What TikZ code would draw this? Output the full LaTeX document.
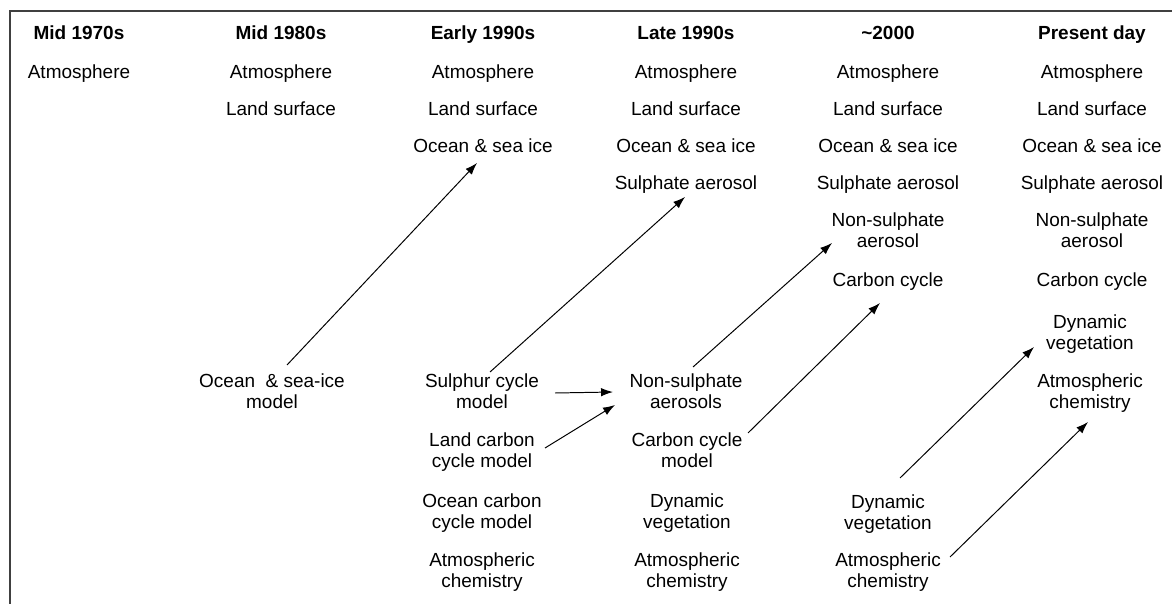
\documentclass[tikz,border=0pt]{standalone}
\usepackage{fontspec}
\setmainfont{Liberation Sans}
\usetikzlibrary{arrows.meta}

\newcommand{\lblstrut}{\rule[-2.4pt]{0pt}{14.4pt}}

\begin{document}
\begin{tikzpicture}[x=0.025cm, y=-0.025cm,
    lbl/.style={align=center, inner sep=0pt, font=\fontsize{13.5}{15}\selectfont,
      execute at begin node=\lblstrut, execute at end node=\lblstrut},
    hdr/.style={lbl, font=\fontsize{13.5}{15}\selectfont\bfseries},
    arr/.style={-{Latex[length=8.5pt,width=6pt]}, line width=0.7pt}]
    \useasboundingbox (0,0) rectangle (1172,604);

    % Frame (top and left edge only)
    \draw[line width=1.3pt, black!75] (10,604) -- (10,11) -- (1172,11);

    % Column headers
    \node[hdr] (h1) at (79,33) {Mid 1970s};
    \node[hdr] (h2) at (281,33) {Mid 1980s};
    \node[hdr] (h3) at (483,33) {Early 1990s};
    \node[hdr] (h4) at (686,33) {Late 1990s};
    \node[hdr] (h5) at (888,33) {\~{}2000};
    \node[hdr] (h6) at (1092,33) {Present day};

    % Mid 1970s
    \node[lbl] (atm1) at (79,72) {Atmosphere};

    % Mid 1980s
    \node[lbl] (atm2) at (281,72) {Atmosphere};
    \node[lbl] (land2) at (281,109) {Land surface};
    \node[lbl] (osim2) at (272,393) {Ocean \ \& sea-ice\\model};

    % Early 1990s
    \node[lbl] (atm3) at (483,72) {Atmosphere};
    \node[lbl] (land3) at (483,109) {Land surface};
    \node[lbl] (ocean3) at (483,146) {Ocean \& sea ice};
    \node[lbl] (sulph3) at (482,393) {Sulphur cycle\\model};
    \node[lbl] (landc3) at (482,452) {Land carbon\\cycle model};
    \node[lbl] (oceanc3) at (482,513) {Ocean carbon\\cycle model};
    \node[lbl] (chem3) at (482,572) {Atmospheric\\chemistry};

    % Late 1990s
    \node[lbl] (atm4) at (686,72) {Atmosphere};
    \node[lbl] (land4) at (686,109) {Land surface};
    \node[lbl] (ocean4) at (686,146) {Ocean \& sea ice};
    \node[lbl] (sa4) at (686,183) {Sulphate aerosol};
    \node[lbl] (nsa4) at (686,393) {Non-sulphate\\aerosols};
    \node[lbl] (ccm4) at (687,452) {Carbon cycle\\model};
    \node[lbl] (veg4) at (687,513) {Dynamic\\vegetation};
    \node[lbl] (chem4) at (687,572) {Atmospheric\\chemistry};

    % ~2000
    \node[lbl] (atm5) at (888,72) {Atmosphere};
    \node[lbl] (land5) at (888,109) {Land surface};
    \node[lbl] (ocean5) at (888,146) {Ocean \& sea ice};
    \node[lbl] (sa5) at (888,183) {Sulphate aerosol};
    \node[lbl] (nsa5) at (888,232) {Non-sulphate\\aerosol};
    \node[lbl] (cc5) at (888,280) {Carbon cycle};
    \node[lbl] (veg5) at (888,514) {Dynamic\\vegetation};
    \node[lbl] (chem5) at (888,572) {Atmospheric\\chemistry};

    % Present day
    \node[lbl] (atm6) at (1092,72) {Atmosphere};
    \node[lbl] (land6) at (1092,109) {Land surface};
    \node[lbl] (ocean6) at (1092,146) {Ocean \& sea ice};
    \node[lbl] (sa6) at (1092,183) {Sulphate aerosol};
    \node[lbl] (nsa6) at (1092,232) {Non-sulphate\\aerosol};
    \node[lbl] (cc6) at (1092,280) {Carbon cycle};
    \node[lbl] (veg6) at (1090,334) {Dynamic\\vegetation};
    \node[lbl] (chem6) at (1090,393) {Atmospheric\\chemistry};

    % Components coupled in
    \draw[arr] ([shift={(15,-28)}]osim2.center) -- ([shift={(-6,17)}]ocean3.center);
    \draw[arr] ([shift={(8,-21)}]sulph3.center) -- ([shift={(-1,14)}]sa4.center);
    \draw[arr] ([shift={(73,0)}]sulph3.center) -- ([shift={(-73,-1)}]nsa4.center);
    \draw[arr] ([shift={(63,-4)}]landc3.center) -- ([shift={(-71,12)}]nsa4.center);
    \draw[arr] ([shift={(7,-26)}]nsa4.center) -- ([shift={(-56,11)}]nsa5.center);
    \draw[arr] ([shift={(61,-19)}]ccm4.center) -- ([shift={(-8,23)}]cc5.center);
    \draw[arr] ([shift={(12,-36)}]veg5.center) -- ([shift={(-56,13)}]veg6.center);
    \draw[arr] ([shift={(62,-15)}]chem5.center) -- ([shift={(-2,29)}]chem6.center);
\end{tikzpicture}
\end{document}
